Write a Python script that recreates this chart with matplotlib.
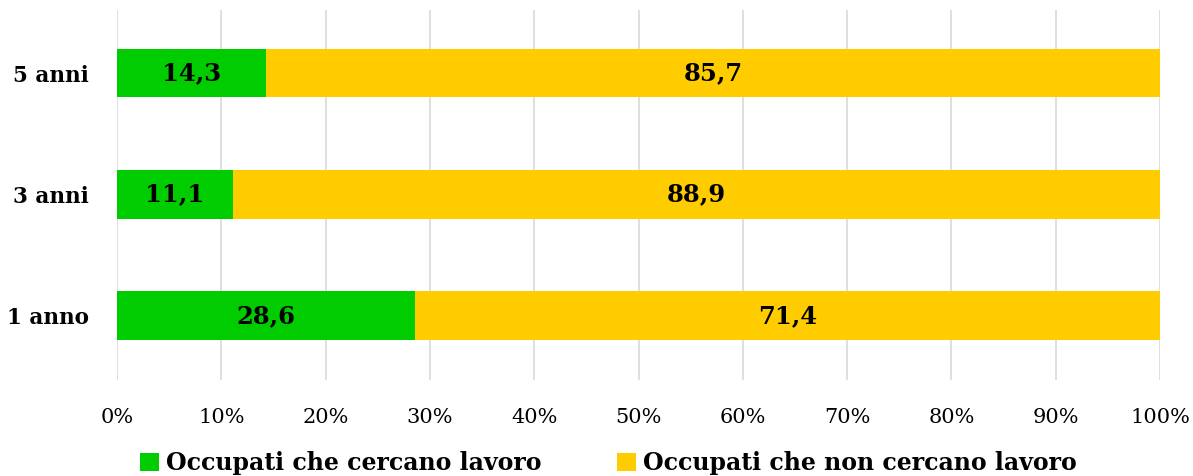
import matplotlib
matplotlib.use("Agg")
import matplotlib.pyplot as plt
from matplotlib.ticker import PercentFormatter

categories = ["1 anno", "3 anni", "5 anni"]
cercano = [28.6, 11.1, 14.3]
non_cercano = [71.4, 88.9, 85.7]
series_names = ["Occupati che cercano lavoro", "Occupati che non cercano lavoro"]
colors = ["#00cc00", "#ffcc00"]

plt.rcParams["font.family"] = ["DejaVu Serif"]

fig = plt.figure(figsize=(11.93, 4.76), dpi=100)
ax = fig.add_axes([117 / 1193, 1 - 380 / 476, (1160 - 117) / 1193, 370 / 476])

y = range(len(categories))
b1 = ax.barh(y, cercano, height=0.4, color=colors[0], label=series_names[0], zorder=3)
b2 = ax.barh(y, non_cercano, left=cercano, height=0.4, color=colors[1], label=series_names[1], zorder=3)

def fmt(v):
    return f"{v:.1f}".replace(".", ",")

for bars, vals in ((b1, cercano), (b2, non_cercano)):
    ax.bar_label(bars, labels=[fmt(v) for v in vals], label_type="center",
                 fontsize=17.5, fontweight="bold", color="black")

ax.set_xlim(0, 100)
ax.set_ylim(-0.53, 2.52)
ax.set_xticks(range(0, 101, 10))
ax.xaxis.set_major_formatter(PercentFormatter(decimals=0))
ax.set_yticks(list(y))
ax.set_yticklabels(categories, fontsize=15.5, fontweight="bold")
ax.tick_params(axis="x", labelsize=15, length=0, pad=20)
ax.tick_params(axis="y", length=0, pad=20)
ax.grid(axis="x", color="#d9d9d9", linewidth=1.2, zorder=0)
for s in ax.spines.values():
    s.set_visible(False)

fig.legend(loc="center", ncol=2, bbox_to_anchor=(0.51, 0.027), frameon=False,
           prop={"size": 17, "weight": "bold"}, handlelength=0.8, handleheight=0.8,
           handletextpad=0.3, columnspacing=3.2)

fig.savefig("out.png", dpi=100)
